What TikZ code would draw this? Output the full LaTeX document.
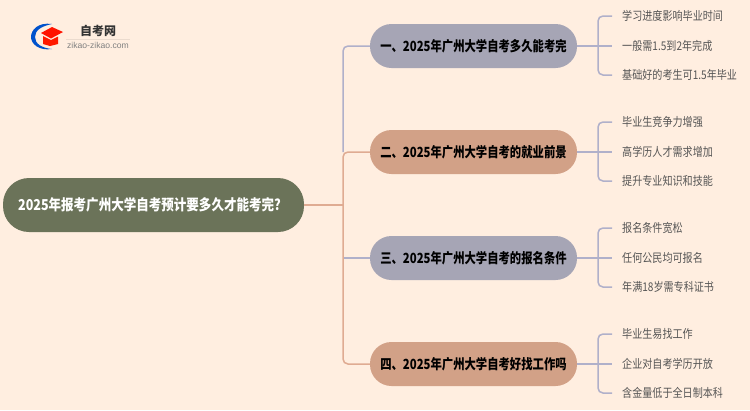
\documentclass[tikz,border=0pt]{standalone}
\usepackage{fontspec}
\setmainfont{Noto Sans CJK SC}[FakeStretch=0.84]
\newfontfamily\rootfont{Noto Sans CJK SC}[FakeStretch=0.835]
\newfontfamily\branchfont{Noto Sans CJK SC}[FakeStretch=0.81]
\newfontfamily\logofont{Noto Sans CJK SC}
\newfontfamily\latinlogo{Liberation Sans}
\definecolor{bgc}{HTML}{FFEEE0}
\definecolor{rootc}{HTML}{6B7359}
\definecolor{grayc}{HTML}{A6A5B5}
\definecolor{orc}{HTML}{D2A187}
\definecolor{lgray}{HTML}{B0B0CA}
\definecolor{lor}{HTML}{DFAB92}
\definecolor{leaftxt}{HTML}{555555}
\tikzset{
  rootbox/.style={fill=rootc,text=white,rounded corners=26pt,minimum width=301pt,minimum height=54pt,inner sep=0pt,font=\rootfont\fontsize{15}{17}\selectfont\bfseries},
  branchbox/.style={rounded corners=21.5pt,minimum width=207pt,minimum height=44pt,inner sep=0pt,text=black,font=\branchfont\fontsize{14}{16}\selectfont\bfseries},
  leafbox/.style={anchor=west,inner xsep=10pt,inner ysep=0pt,text=leaftxt,font=\fontsize{12}{14}\selectfont},
  graylink/.style={draw=lgray,line width=1.5pt,rounded corners=5pt},
  orlink/.style={draw=lor,line width=1.5pt,rounded corners=5pt}
}
\begin{document}
\begin{tikzpicture}[x=1pt,y=-1pt]
\useasboundingbox (0,0) rectangle (750,410);
\fill[bgc] (0,0) rectangle (750,410);
% logo
\fill[black!8!bgc] (66,38.6) rectangle (130,39.4);
\fill[blue!60!cyan!80!black] (52,24) .. controls (38,22) and (31,30) .. (31,37) .. controls (31,44) and (39,51) .. (52,49) .. controls (42,48) and (35,44) .. (35,37) .. controls (35,30) and (42,26) .. (52,24) -- cycle;
\fill[red!80!orange] (43,36) -- (51,40) -- (58,36.5) -- (58,44) -- (50,46) -- (43,44) -- cycle;
\fill[red!85!orange] (41,33) -- (52,27) -- (63,32) -- (51,38.5) -- cycle;
\node[inner sep=0pt,text=black!80] (logotitle) at (98,31) {\logofont\fontsize{12}{13}\selectfont\bfseries 自考网};
\node[inner sep=0pt,text=black!50] (logourl) at (98,45) {\latinlogo\fontsize{8.6}{9}\selectfont zikao-zikao.com};
% nodes
\node[rootbox] (root) at (153.5,205) {2025年报考广州大学自考预计要多久才能考完?\kern 8pt};
\node[branchbox,fill=grayc] (b1) at (473.5,46) {一、2025年广州大学自考多久能考完};
\node[branchbox,fill=orc] (b2) at (473.5,152) {二、2025年广州大学自考的就业前景};
\node[branchbox,fill=grayc] (b3) at (473.5,258) {三、2025年广州大学自考的报名条件};
\node[branchbox,fill=orc] (b4) at (473.5,364) {四、2025年广州大学自考好找工作吗};
\node[leafbox] (l11) at (612,16) {学习进度影响毕业时间};
\node[leafbox] (l12) at (612,46) {一般需1.5到2年完成};
\node[leafbox] (l13) at (612,75) {基础好的考生可1.5年毕业};
\node[leafbox] (l21) at (612,122) {毕业生竞争力增强};
\node[leafbox] (l22) at (612,152) {高学历人才需求增加};
\node[leafbox] (l23) at (612,181) {提升专业知识和技能};
\node[leafbox] (l31) at (612,228) {报名条件宽松};
\node[leafbox] (l32) at (612,258) {任何公民均可报名};
\node[leafbox] (l33) at (612,287) {年满18岁需专科证书};
\node[leafbox] (l41) at (612,334) {毕业生易找工作};
\node[leafbox] (l42) at (612,364) {企业对自考学历开放};
\node[leafbox] (l43) at (612,393) {含金量低于全日制本科};
% trunk junctions
\coordinate (sp) at (343,205);
\coordinate (j1) at (598,46);
\coordinate (j2) at (598,152);
\coordinate (j3) at (598,258);
\coordinate (j4) at (598,364);
% trunk connectors
\draw[graylink] (b1.west) -| (sp |- b2.west);
\draw[graylink] (sp |- b3.west) -- (b3.west);
\draw[orlink] (b2.west) -| (sp |- b4.west) -- (b4.west);
\draw[orlink] (root.east) -- (sp);
% leaf connectors
\foreach \b/\j/\t/\m/\e in {b1/j1/l11/l12/l13,b2/j2/l21/l22/l23,b3/j3/l31/l32/l33,b4/j4/l41/l42/l43}{
  \draw[graylink] (\t.west) -| (\j |- \e.west) -- (\e.west);
  \draw[graylink] (\b.east) -- (\m.west);
}
\end{tikzpicture}
\end{document}
